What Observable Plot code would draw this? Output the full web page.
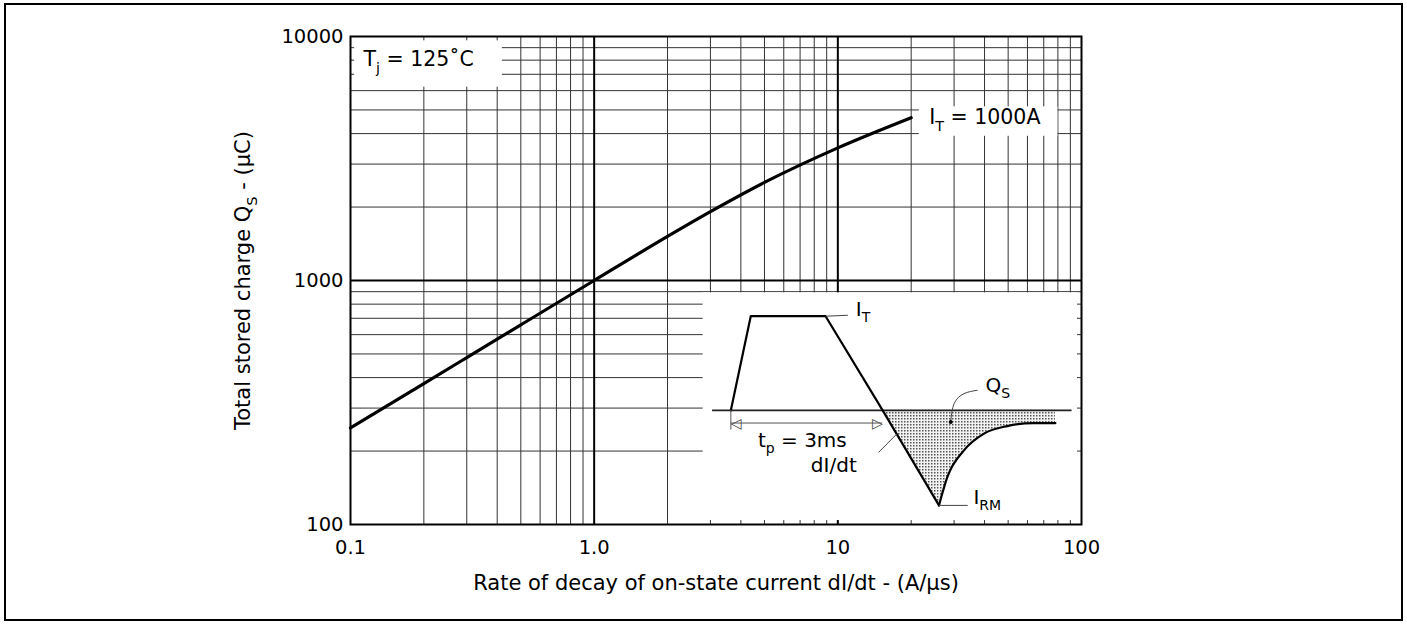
<!DOCTYPE html>
<html>
<head>
<meta charset="utf-8">
<script src="https://cdn.jsdelivr.net/npm/d3@7"></script>
<script src="https://cdn.jsdelivr.net/npm/@observablehq/plot@0.6"></script>
<style>
  html, body { margin: 0; padding: 0; background: #fff; }
  #wrap { position: relative; width: 1407px; height: 624px; overflow: hidden; }
  #wrap svg { display: block; }
  #border { position: absolute; left: 4px; top: 3px; width: 1399px; height: 618px; border: 2px solid #000; box-sizing: border-box; pointer-events: none; }
</style>
</head>
<body>
<div id="wrap"><div id="border"></div></div>
<script>
// ---------- main chart data ----------
const xTicks = [0.1, 1, 10, 100];
const xTickLabels = ["0.1", "1.0", "10", "100"];
const yTicks = [100, 1000, 10000];
const yTickLabels = ["100", "1000", "10000"];
const xMinor = [0.2, 0.3, 0.4, 0.5, 0.6, 0.7, 0.8, 0.9, 2, 3, 4, 5, 6, 7, 8, 9, 20, 30, 40, 50, 60, 70, 80, 90];
const xMajor = [1, 10];
const yMinor = [200, 300, 400, 500, 600, 700, 800, 900, 2000, 3000, 4000, 5000, 6000, 7000, 8000, 9000];
const yMajor = [1000];
// Qs vs dI/dt, IT = 1000A, Tj = 125 C
const rate   = [0.1, 0.2, 0.3, 0.5, 1, 2, 3, 5, 10, 20];
const charge = [249, 378, 483, 658, 1000, 1516, 1915, 2524, 3496, 4646];

const xTitle = "Rate of decay of on-state current dI/dt - (A/\u03bcs)";
const yTitle = "Total stored charge Q_{S} - (\u03bcC)";
const tjLabel = "T_{j} = 125\u02daC";
const curveLabel = "I_{T} = 1000A";

// white label / inset boxes (data units)
const boxes = [
  {x1: 0.104, x2: 0.42, y1: 6200, y2: 9600},   // Tj label
  {x1: 21.6, x2: 80, y1: 3900, y2: 5150},      // IT label
  {x1: 2.8, x2: 96.3, y1: 103.8, y2: 890}      // waveform inset
];
const insetArea = {x1: 2.8, x2: 100, y1: 100, y2: 890};

// ---------- inset (schematic) data: t in arbitrary units, i in units of IT ----------
const waveT = [7.24, 12.5, 32.3, 47.4, 62.3];
const waveI = [0, 1, 1, 0, -1.01];
const recT = [62.3, 64.5, 68.9, 74.2, 80.4, 87.4, 93.1];
const recI = [-1.01, -0.71, -0.426, -0.248, -0.167, -0.135, -0.135];
const baseT = [2.4, 97.5];
const tpT = [7.24, 47.4];
const tpI = -0.135;
const extI = [0, -0.21];
const leaders = [
  {x1: 32.3, y1: 1, x2: 38.2, y2: 1.01},       // IT
  {x1: 62.3, y1: -1.01, x2: 69.9, y2: -1.01},  // IRM
  {x1: 46.3, y1: -0.447, x2: 51.3, y2: -0.245} // dI/dt
];
const qsLeaderT = [65.4, 66.3, 68.9, 72.4];
const qsLeaderI = [-0.124, 0.071, 0.177, 0.213];
const insetLabels = [
  {t: 40.3, i: 1.07, text: "I_{T}"},
  {t: 74.6, i: 0.266, text: "Q_{S}"},
  {t: 14.4, i: -0.32, text: "t_{p} = 3ms"},
  {t: 28.4, i: -0.585, text: "dI/dt"},
  {t: 71.4, i: -0.925, text: "I_{RM}"}
];

// ---------- helpers ----------
function applySubs(svg) {
  svg.querySelectorAll("text").forEach(el => {
    const s = el.textContent;
    if (!s.includes("_{")) return;
    const parts = s.split(/(_\{[^}]*\})/).filter(p => p.length);
    el.textContent = "";
    let down = false;
    parts.forEach(p => {
      const ts = document.createElementNS("http://www.w3.org/2000/svg", "tspan");
      if (p.startsWith("_{")) {
        ts.textContent = p.slice(2, -1);
        ts.setAttribute("font-size", "70%");
        ts.setAttribute("dy", "0.45em");
        down = true;
      } else {
        ts.textContent = p;
        if (down) { ts.setAttribute("dy", "-0.315em"); down = false; }
      }
      el.appendChild(ts);
    });
  });
}

const FONT = "'DejaVu Sans', sans-serif";
const curveData = rate.map((r, k) => ({rate: r, charge: charge[k]}));
const endPt = curveData[curveData.length - 1];

const chart = Plot.plot({
  width: 1407,
  height: 624,
  marginLeft: 350,
  marginRight: 326,
  marginTop: 36,
  marginBottom: 100,
  style: {fontFamily: FONT, fontSize: "19.5px", background: "transparent", color: "#000"},
  x: {type: "log", domain: [0.1, 100], ticks: xTicks, tickFormat: d => xTickLabels[xTicks.indexOf(d)], tickSize: 0, tickPadding: 16, label: null},
  y: {type: "log", domain: [100, 10000], ticks: yTicks, tickFormat: d => yTickLabels[yTicks.indexOf(d)], tickSize: 0, tickPadding: 7, label: null},
  marks: [
    Plot.ruleX(xMinor, {stroke: "#333", strokeWidth: 1}),
    Plot.ruleY(yMinor, {stroke: "#333", strokeWidth: 1}),
    Plot.ruleX(xMajor, {stroke: "#000", strokeWidth: 2}),
    Plot.ruleY(yMajor, {stroke: "#000", strokeWidth: 2}),
    Plot.rect(boxes, {x1: "x1", x2: "x2", y1: "y1", y2: "y2", fill: "white"}),
    Plot.line(curveData, {x: "rate", y: "charge", curve: "monotone-x", stroke: "#000", strokeWidth: 3.2}),
    Plot.frame({stroke: "#000", strokeWidth: 2}),
    Plot.text([tjLabel], {text: d => d, frameAnchor: "top-left", dx: 13, dy: 23, textAnchor: "start", lineAnchor: "middle", fontSize: 20.5}),
    Plot.text([endPt], {x: "rate", y: "charge", text: () => curveLabel, dx: 18, textAnchor: "start", lineAnchor: "middle", fontSize: 20.5}),
    Plot.text([yTitle], {text: d => d, frameAnchor: "left", dx: -107, rotate: -90, textAnchor: "middle", lineAnchor: "middle", fontSize: 21}),
    Plot.text([xTitle], {text: d => d, frameAnchor: "bottom", dy: 59, textAnchor: "middle", lineAnchor: "middle", fontSize: 21})
  ]
});
const wrap = document.getElementById("wrap");
wrap.insertBefore(chart, wrap.firstChild);
applySubs(chart);

// ---------- inset placement from the main scales ----------
let sx = chart.scale("x"), sy = chart.scale("y");
const fx = v => (sx && sx.apply) ? sx.apply(v) : d3.scaleLog([0.1, 100], [350, 1081])(v);
const fy = v => (sy && sy.apply) ? sy.apply(v) : d3.scaleLog([100, 10000], [524, 36])(v);
const iLeft = fx(insetArea.x1), iRight = fx(insetArea.x2);
const iTop = fy(insetArea.y2), iBottom = fy(insetArea.y1);
const iW = iRight - iLeft, iH = iBottom - iTop;

const wave = waveT.map((t, k) => ({t, i: waveI[k]}));
const rec = recT.map((t, k) => ({t, i: recI[k]}));
const qsLeader = qsLeaderT.map((t, k) => ({t, i: qsLeaderI[k]}));
const SHADE = "#9a9a9a";

const inset = Plot.plot({
  width: Math.round(iW),
  height: Math.round(iH),
  margin: 0,
  style: {fontFamily: FONT, fontSize: "20px", background: "transparent", color: "#000", overflow: "visible"},
  x: {domain: [0, 100], axis: null},
  y: {domain: [-1.213, 1.252], axis: null},
  marks: [
    Plot.areaY(wave.slice(3), {x: "t", y1: 0, y2: "i", fill: SHADE}),
    Plot.areaY(rec, {x: "t", y1: 0, y2: "i", fill: SHADE, curve: "monotone-x"}),
    Plot.ruleY([0], {x1: baseT[0], x2: baseT[1], stroke: "#222", strokeWidth: 1.6}),
    Plot.line(wave, {x: "t", y: "i", stroke: "#000", strokeWidth: 2.2}),
    Plot.line(rec, {x: "t", y: "i", stroke: "#000", strokeWidth: 2.2, curve: "monotone-x"}),
    Plot.ruleY([tpI], {x1: tpT[0], x2: tpT[1], stroke: "#555", strokeWidth: 1}),
    Plot.ruleX([tpT[0]], {y1: extI[0], y2: extI[1], stroke: "#555", strokeWidth: 1}),
    Plot.text([{t: tpT[0], i: tpI, s: "\u25c1"}], {x: "t", y: "i", text: "s", textAnchor: "start", lineAnchor: "middle", fontSize: 14, fill: "#444"}),
    Plot.text([{t: tpT[1], i: tpI, s: "\u25b7"}], {x: "t", y: "i", text: "s", textAnchor: "end", lineAnchor: "middle", fontSize: 14, fill: "#444"}),
    Plot.link(leaders, {x1: "x1", y1: "y1", x2: "x2", y2: "y2", stroke: "#444", strokeWidth: 1}),
    Plot.line(qsLeader, {x: "t", y: "i", curve: "natural", stroke: "#444", strokeWidth: 1}),
    Plot.dot([qsLeader[0]], {x: "t", y: "i", r: 2, fill: "#000"}),
    Plot.text(insetLabels, {x: "t", y: "i", text: "text", textAnchor: "start", lineAnchor: "middle", fontSize: 20})
  ]
});
inset.style.position = "absolute";
inset.style.left = iLeft + "px";
inset.style.top = iTop + "px";
wrap.appendChild(inset);
applySubs(inset);

// stipple fill for the stored-charge area
const ns = "http://www.w3.org/2000/svg";
const defs = document.createElementNS(ns, "defs");
const pat = document.createElementNS(ns, "pattern");
pat.setAttribute("id", "stipple");
pat.setAttribute("width", "3");
pat.setAttribute("height", "3");
pat.setAttribute("patternUnits", "userSpaceOnUse");
const bg = document.createElementNS(ns, "rect");
bg.setAttribute("width", "3"); bg.setAttribute("height", "3"); bg.setAttribute("fill", "#f2f2f2");
const dotR = document.createElementNS(ns, "rect");
dotR.setAttribute("width", "1.5"); dotR.setAttribute("height", "1.5"); dotR.setAttribute("fill", "#555");
pat.appendChild(bg); pat.appendChild(dotR); defs.appendChild(pat);
inset.insertBefore(defs, inset.firstChild);
inset.querySelectorAll("[fill]").forEach(el => {
  const f = (el.getAttribute("fill") || "").toLowerCase();
  if (f === SHADE) el.setAttribute("fill", "url(#stipple)");
});
</script>
</body>
</html>
